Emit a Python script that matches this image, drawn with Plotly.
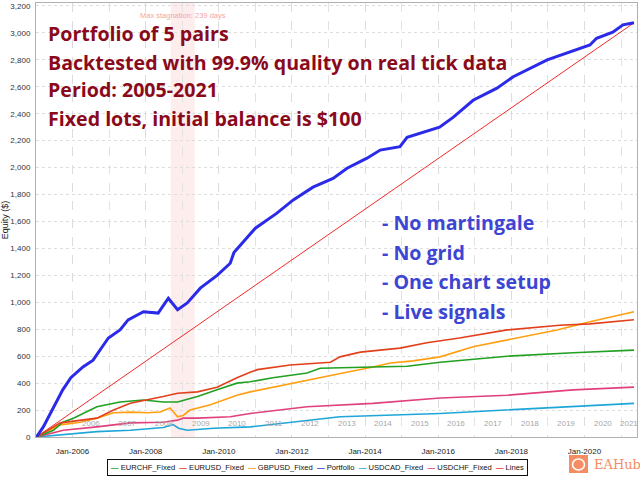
import plotly.graph_objects as go
import pandas as pd

# ---------------- data ----------------
portfolio_dates = ["2005-01-05", "2005-03-15", "2005-09-25", "2005-12-15", "2006-04-15", "2006-07-25",
                   "2006-10-25", "2006-12-25", "2007-04-20", "2007-07-10", "2007-12-10", "2008-05-05",
                   "2008-08-15", "2008-11-15", "2009-02-20", "2009-06-30", "2009-12-15", "2010-04-25",
                   "2010-06-01", "2011-01-01", "2011-08-01", "2012-01-15", "2012-07-30", "2013-02-15",
                   "2013-07-05", "2014-01-20", "2014-06-01", "2014-12-15", "2015-02-25", "2015-07-01",
                   "2016-01-15", "2016-06-01", "2016-12-15", "2017-08-10", "2018-01-20", "2018-12-25",
                   "2019-08-10", "2020-02-25", "2020-05-01", "2020-10-10", "2021-01-20", "2021-05-10"]
portfolio_vals = [0, 75, 350, 440, 520, 570,
                  670, 735, 795, 870, 930, 920,
                  1030, 945, 995, 1105, 1200, 1290,
                  1370, 1550, 1660, 1760, 1855, 1920,
                  1995, 2070, 2130, 2155, 2225, 2255,
                  2300, 2375, 2500, 2590, 2675, 2800,
                  2860, 2910, 2960, 3005, 3060, 3075]

eurusd_dates = ["2005-01-05", "2005-09-01", "2006-09-01", "2007-02-15", "2007-08-01", "2008-01-20",
                "2008-06-25", "2008-11-15", "2009-06-01", "2009-12-15", "2010-07-01", "2010-11-10",
                "2011-01-20", "2011-12-15", "2013-01-20", "2013-04-25", "2013-11-15", "2014-12-15",
                "2015-09-10", "2016-08-01", "2017-11-20", "2019-04-30", "2020-02-25", "2021-05-10"]
eurusd_vals = [0, 105, 140, 200, 250, 275,
               300, 325, 335, 370, 440, 480,
               500, 535, 555, 595, 630, 660,
               700, 735, 795, 830, 840, 870]

eurchf_dates = ["2005-01-05", "2005-06-25", "2005-09-25", "2006-01-10", "2006-09-01", "2007-04-20",
                "2007-12-10", "2008-06-25", "2008-11-15", "2009-06-01", "2009-12-15", "2010-07-01",
                "2010-11-10", "2011-06-25", "2012-06-01", "2012-10-10", "2014-03-20", "2015-02-25",
                "2016-01-20", "2017-11-20", "2019-09-10", "2021-05-10"]
eurchf_vals = [0, 50, 110, 140, 225, 260,
               275, 260, 260, 300, 350, 400,
               410, 440, 475, 510, 520, 525,
               555, 600, 625, 645]

gbpusd_dates = ["2005-01-05", "2005-09-01", "2006-03-20", "2006-09-01", "2007-02-15", "2007-08-01",
                "2008-01-20", "2008-05-25", "2008-09-01", "2008-11-15", "2009-01-10", "2009-03-20",
                "2009-10-10", "2010-07-01", "2010-11-10", "2011-06-25", "2012-06-01", "2013-02-15",
                "2014-03-20", "2014-09-10", "2015-04-25", "2016-01-20", "2016-12-15", "2017-11-20",
                "2019-04-01", "2020-02-25", "2021-05-10"]
gbpusd_vals = [0, 90, 110, 140, 180, 185,
               180, 185, 215, 150, 160, 200,
               240, 310, 335, 370, 425, 460,
               520, 550, 565, 595, 670, 720,
               795, 855, 930]

usdchf_dates = ["2005-01-05", "2005-10-01", "2006-09-01", "2007-08-01", "2008-06-25", "2008-11-15",
                "2009-01-10", "2009-06-01", "2010-04-25", "2010-11-10", "2012-06-01", "2014-03-20",
                "2016-01-20", "2017-11-20", "2019-09-10", "2021-05-10"]
usdchf_vals = [0, 50, 75, 105, 110, 125,
               140, 140, 150, 175, 225, 250,
               290, 310, 350, 370]

usdcad_dates = ["2005-01-05", "2005-10-01", "2006-09-01", "2007-08-01", "2008-06-25", "2008-10-01",
                "2008-11-25", "2009-02-20", "2009-11-10", "2010-11-10", "2013-04-25", "2016-01-20",
                "2017-11-20", "2019-09-10", "2021-05-10"]
usdcad_vals = [0, 20, 40, 50, 70, 92,
               65, 50, 65, 75, 150, 175,
               200, 225, 250]

# straight reference line ("Lines") from first to last portfolio equity
lines_dates = [portfolio_dates[0], portfolio_dates[-1]]
lines_vals = [portfolio_vals[0], portfolio_vals[-1]]

series_names = ["EURCHF_Fixed", "EURUSD_Fixed", "GBPUSD_Fixed", "Portfolio",
                "USDCAD_Fixed", "USDCHF_Fixed", "Lines"]
series_colors = ["#22a022", "#e2401c", "#ff9f10", "#2a2ae8", "#1ea6d8", "#e0407c", "#f02a2a"]

stagnation_start = "2008-09-08"
stagnation_end = "2009-05-05"
stagnation_label = "Max stagnation: 239 days"

band_years = list(range(2006, 2022))

y_ticks = list(range(0, 3201, 200))

red_lines = ["Portfolio of 5 pairs",
             "Backtested with 99.9% quality on real tick data",
             "Period: 2005-2021",
             "Fixed lots, initial balance is $100"]
blue_lines = ["- No martingale", "- No grid", "- One chart setup", "- Live signals"]

# ---------------- figure ----------------
x_range = ["2005-01-01", "2021-06-09"]
W, H = 640, 480
L, R, T, B = 36, 3, 3, 43
PW, PH = W - L - R, H - T - B


def px_x(px):
    return (px - L) / PW


def px_y(py):
    return (H - B - py) / PH


fig = go.Figure()

data = {
    "EURCHF_Fixed": (eurchf_dates, eurchf_vals, 1.6),
    "EURUSD_Fixed": (eurusd_dates, eurusd_vals, 1.6),
    "GBPUSD_Fixed": (gbpusd_dates, gbpusd_vals, 1.6),
    "USDCAD_Fixed": (usdcad_dates, usdcad_vals, 1.6),
    "USDCHF_Fixed": (usdchf_dates, usdchf_vals, 1.6),
    "Lines": (lines_dates, lines_vals, 1.0),
    "Portfolio": (portfolio_dates, portfolio_vals, 3.0),
}
for name in ["Lines", "USDCAD_Fixed", "USDCHF_Fixed", "GBPUSD_Fixed", "EURCHF_Fixed",
             "EURUSD_Fixed", "Portfolio"]:
    d, v, w = data[name]
    color = series_colors[series_names.index(name)]
    fig.add_trace(go.Scatter(x=d, y=v, mode="lines", name=name,
                             line=dict(color=color, width=w), showlegend=False))

# stagnation band
fig.add_vrect(x0=stagnation_start, x1=stagnation_end, fillcolor="#fdeded", opacity=1,
              line_width=0, layer="below")
mid_stag = pd.Timestamp(stagnation_start) + (pd.Timestamp(stagnation_end) - pd.Timestamp(stagnation_start)) / 2
fig.add_annotation(x=mid_stag, y=px_y(9), xref="x", yref="paper", text=stagnation_label,
                   showarrow=False, font=dict(family="Liberation Sans Narrow, Liberation Sans", size=7.5,
                                              color="#f4a4a4"))

# year band labels inside the plot
end = pd.Timestamp(x_range[1])
for yr in band_years:
    s = pd.Timestamp(f"{yr}-01-01")
    e = min(pd.Timestamp(f"{yr + 1}-01-01"), end)
    fig.add_annotation(x=s + (e - s) / 2, y=px_y(430), xref="x", yref="paper", text=str(yr),
                       showarrow=False,
                       font=dict(family="Liberation Sans Narrow, Liberation Sans", size=8, color="#a8a8a8"))

# red text block
red_y = [33, 62, 90, 119]
for txt, yy in zip(red_lines, red_y):
    fig.add_annotation(x=px_x(46), y=px_y(yy), xref="paper", yref="paper", text=f"<b>{txt}</b>",
                       showarrow=False, xanchor="left", yanchor="middle",
                       font=dict(family="Open Sans", size=19.6, color="#8a0a1c"))

# blue text block
blue_y = [222, 252, 281, 311]
for txt, yy in zip(blue_lines, blue_y):
    fig.add_annotation(x=px_x(380), y=px_y(yy), xref="paper", yref="paper", text=f"<b>{txt}</b>",
                       showarrow=False, xanchor="left", yanchor="middle",
                       font=dict(family="Open Sans", size=19.6, color="#3c46d2"))

# legend (custom, boxed)
parts = []
for name, color in zip(series_names, series_colors):
    parts.append(f"<span style='color:{color}'><b>\u2014</b></span>\u00a0{name}")
legend_text = "\u00a0\u00a0".join(parts)
fig.add_annotation(x=px_x(317), y=px_y(467), xref="paper", yref="paper", text=legend_text,
                   showarrow=False, xanchor="center", yanchor="middle",
                   font=dict(family="Liberation Sans", size=7.6, color="#111111"),
                   bordercolor="#111111", borderwidth=1, borderpad=3, bgcolor="white")

# EAHub logo
fig.add_shape(type="rect", xref="paper", yref="paper", x0=px_x(569), x1=px_x(588),
              y0=px_y(473), y1=px_y(455), fillcolor="#f58c62", line=dict(width=0))
fig.add_shape(type="circle", xref="paper", yref="paper", x0=px_x(572.5), x1=px_x(584.5),
              y0=px_y(470), y1=px_y(459), fillcolor="rgba(0,0,0,0)", line=dict(color="white", width=1.6))
fig.add_annotation(x=px_x(592), y=px_y(464), xref="paper", yref="paper", text="EAHub",
                   showarrow=False, xanchor="left", yanchor="middle",
                   font=dict(family="DejaVu Serif", size=13, color="#f58c62"))

fig.update_layout(
    width=W, height=H,
    margin=dict(l=L, r=R, t=T, b=B, autoexpand=False),
    paper_bgcolor="white", plot_bgcolor="white",
    showlegend=False,
    font=dict(family="Liberation Sans", size=8, color="#333333"),
)
fig.update_xaxes(
    type="date", range=x_range, automargin=False,
    tick0="2006-01-01", dtick="M24", tickformat="%b-%Y",
    tickfont=dict(family="Liberation Sans", size=8, color="#222222"),
    showgrid=True, gridcolor="#dcdcdc", griddash="dash", gridwidth=1,
    minor=dict(dtick="M12", tick0="2005-01-01", showgrid=True, gridcolor="#e2e2e2", gridwidth=1.2),
    showline=True, linecolor="#b0b0b0", mirror=True,
    ticks="", ticklabelstandoff=6, zeroline=False,
)
fig.update_yaxes(
    range=[0, 3222], tickvals=y_ticks, tickformat=",", automargin=False,
    tickfont=dict(family="Liberation Sans", size=8, color="#333333"),
    showgrid=True, gridcolor="#dedede", griddash="dot", gridwidth=1,
    showline=True, linecolor="#b0b0b0", mirror=True,
    ticks="", ticklabelstandoff=3, zeroline=False,
    title=dict(text="Equity ($)", font=dict(family="Liberation Sans", size=9, color="#222222"), standoff=4),
)

fig.write_html("out.html", config={"displayModeBar": False},
               post_script="document.body.style.margin='0px';")
